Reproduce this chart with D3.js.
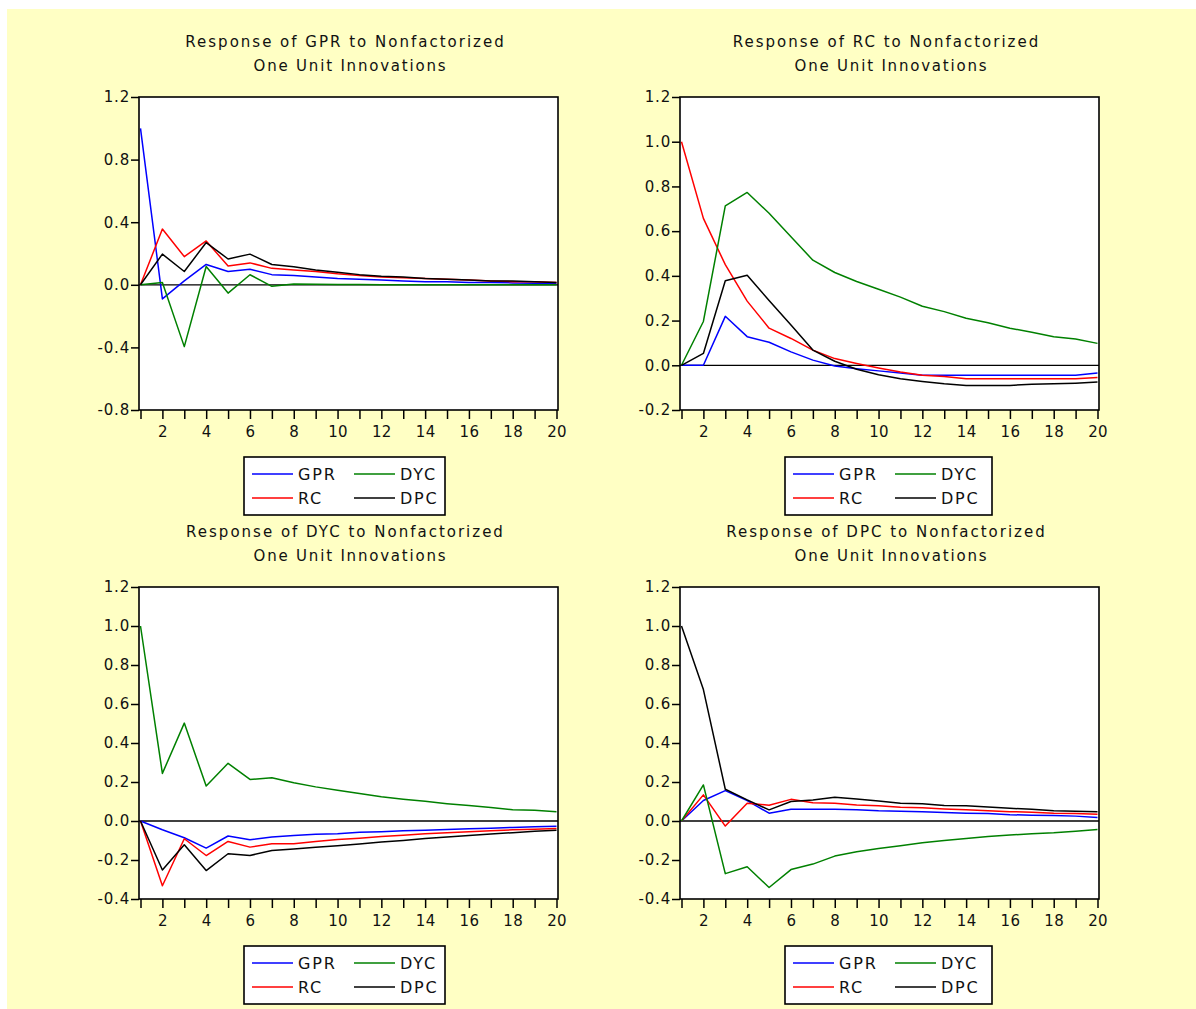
<!DOCTYPE html>
<html><head><meta charset="utf-8">
<script src="https://cdn.jsdelivr.net/npm/d3@7"></script>
<style>body{margin:0;background:#fff;overflow:hidden}</style>
</head><body><div id="chart"></div>
<script>
// ---------- data ----------
const periods = [1,2,3,4,5,6,7,8,9,10,11,12,13,14,15,16,17,18,19,20];
const seriesNames = ["GPR","RC","DYC","DPC"];
const seriesColors = ["#0000ff","#ff0000","#008000","#000000"];

// Response of GPR
const gprToGPR = [1.0,-0.09,0.025,0.13,0.085,0.10,0.065,0.06,0.05,0.04,0.035,0.03,0.025,0.02,0.02,0.015,0.015,0.012,0.01,0.01];
const gprToRC  = [0,0.356,0.18,0.28,0.12,0.14,0.105,0.095,0.085,0.07,0.06,0.05,0.045,0.04,0.035,0.03,0.025,0.02,0.02,0.015];
const gprToDYC = [0,0.015,-0.395,0.117,-0.053,0.064,-0.01,0.005,0.003,0.002,0.002,0.001,0.001,0.001,0.001,0.001,0,0,0,0];
const gprToDPC = [0,0.196,0.085,0.27,0.165,0.196,0.13,0.115,0.095,0.08,0.065,0.055,0.05,0.04,0.035,0.03,0.025,0.025,0.02,0.015];

// Response of RC
const rcToGPR = [0,0,0.219,0.128,0.103,0.06,0.023,-0.003,-0.015,-0.025,-0.035,-0.045,-0.045,-0.045,-0.045,-0.045,-0.045,-0.045,-0.045,-0.035];
const rcToRC  = [1.0,0.657,0.45,0.287,0.166,0.12,0.068,0.03,0.008,-0.012,-0.03,-0.045,-0.05,-0.06,-0.06,-0.06,-0.06,-0.06,-0.06,-0.055];
const rcToDYC = [0,0.196,0.713,0.773,0.68,0.575,0.47,0.415,0.375,0.34,0.305,0.264,0.24,0.21,0.19,0.166,0.148,0.128,0.118,0.098];
const rcToDPC = [0,0.053,0.378,0.403,0.29,0.18,0.068,0.018,-0.018,-0.042,-0.06,-0.072,-0.083,-0.09,-0.09,-0.09,-0.085,-0.083,-0.08,-0.075];

// Response of DYC
const dycToGPR = [0,-0.045,-0.086,-0.139,-0.077,-0.096,-0.082,-0.074,-0.068,-0.065,-0.058,-0.055,-0.05,-0.047,-0.044,-0.04,-0.037,-0.033,-0.03,-0.027];
const dycToRC  = [0,-0.332,-0.091,-0.177,-0.105,-0.134,-0.117,-0.117,-0.105,-0.095,-0.088,-0.08,-0.073,-0.066,-0.06,-0.055,-0.05,-0.045,-0.042,-0.038];
const dycToDYC = [1.0,0.244,0.502,0.179,0.296,0.213,0.222,0.196,0.175,0.158,0.141,0.124,0.112,0.101,0.089,0.079,0.069,0.058,0.055,0.048];
const dycToDPC = [0,-0.251,-0.122,-0.254,-0.168,-0.177,-0.151,-0.144,-0.135,-0.127,-0.118,-0.108,-0.1,-0.09,-0.082,-0.074,-0.067,-0.06,-0.053,-0.047];

// Response of DPC
const dpcToGPR = [0,0.105,0.156,0.105,0.04,0.06,0.06,0.06,0.058,0.052,0.05,0.048,0.043,0.04,0.038,0.032,0.03,0.028,0.025,0.018];
const dpcToRC  = [0,0.134,-0.026,0.091,0.081,0.111,0.094,0.091,0.082,0.078,0.07,0.068,0.062,0.058,0.052,0.048,0.045,0.04,0.038,0.035];
const dpcToDYC = [0,0.185,-0.27,-0.235,-0.341,-0.249,-0.221,-0.18,-0.158,-0.141,-0.127,-0.111,-0.1,-0.09,-0.08,-0.072,-0.065,-0.06,-0.052,-0.043];
const dpcToDPC = [1.0,0.674,0.163,0.108,0.057,0.1,0.108,0.122,0.113,0.103,0.091,0.088,0.08,0.078,0.072,0.065,0.06,0.052,0.05,0.048];

const titleLine1 = ["Response of GPR to Nonfactorized","Response of RC to Nonfactorized","Response of DYC to Nonfactorized","Response of DPC to Nonfactorized"];
const titleLine2 = "One Unit Innovations";
const yTicksGPR = [-0.8,-0.4,0.0,0.4,0.8,1.2];
const yTicksRC  = [-0.2,0.0,0.2,0.4,0.6,0.8,1.0,1.2];
const yTicksLow = [-0.4,-0.2,0.0,0.2,0.4,0.6,0.8,1.0,1.2];
const xTickLabels = [2,4,6,8,10,12,14,16,18,20];

// ---------- layout ----------
const W = 1196, H = 1009;
const FONT = "'DejaVu Sans', Verdana, sans-serif";
const panels = [
  {series:[gprToGPR,gprToRC,gprToDYC,gprToDPC], title:titleLine1[0], yTicks:yTicksGPR, box:{l:139,r:558,t:97,b:410}, legW:201},
  {series:[rcToGPR,rcToRC,rcToDYC,rcToDPC],     title:titleLine1[1], yTicks:yTicksRC,  box:{l:680,r:1099,t:97,b:410}, legW:207},
  {series:[dycToGPR,dycToRC,dycToDYC,dycToDPC], title:titleLine1[2], yTicks:yTicksLow, box:{l:139,r:558,t:587,b:899}, legW:201},
  {series:[dpcToGPR,dpcToRC,dpcToDYC,dpcToDPC], title:titleLine1[3], yTicks:yTicksLow, box:{l:680,r:1099,t:587,b:899}, legW:207}
];

const svg = d3.select("#chart").append("svg").attr("width",W).attr("height",H)
  .style("font-family",FONT);
svg.append("rect").attr("x",0).attr("y",0).attr("width",W).attr("height",H).attr("fill","#ffffff");
svg.append("rect").attr("x",7).attr("y",9).attr("width",W-7).attr("height",H-9).attr("fill","#ffffc4");

panels.forEach(p => {
  const b = p.box;
  const g = svg.append("g");
  const yMin = d3.min(p.yTicks), yMax = d3.max(p.yTicks);
  const x = d3.scaleLinear().domain([1,20]).range([b.l+1.5, b.r-1.5]);
  const y = d3.scaleLinear().domain([yMin,yMax]).range([b.b, b.t]);

  g.append("rect").attr("x",b.l).attr("y",b.t).attr("width",b.r-b.l).attr("height",b.b-b.t).attr("fill","#ffffff");

  // titles
  const cx = (b.l+b.r)/2;
  g.append("text").attr("x",cx-3).attr("y",b.t-50).attr("text-anchor","middle")
    .attr("font-size",15).attr("letter-spacing","2px").attr("fill","#111").text(p.title);
  g.append("text").attr("x",cx+2).attr("y",b.t-26).attr("text-anchor","middle")
    .attr("font-size",15).attr("letter-spacing","1.8px").attr("fill","#111").text(titleLine2);

  // zero line
  g.append("line").attr("x1",b.l).attr("x2",b.r).attr("y1",y(0)).attr("y2",y(0))
    .attr("stroke","#000").attr("stroke-width",1.3);

  // series
  const line = d3.line().x((d,i)=>x(periods[i])).y(d=>y(d));
  p.series.forEach((s,i)=>{
    g.append("path").datum(s).attr("d",line).attr("fill","none")
      .attr("stroke",seriesColors[i]).attr("stroke-width",1.5).attr("stroke-linejoin","round");
  });

  // frame
  g.append("rect").attr("x",b.l).attr("y",b.t).attr("width",b.r-b.l).attr("height",b.b-b.t)
    .attr("fill","none").attr("stroke","#000").attr("stroke-width",1.6);

  // y axis
  const ya = g.append("g").attr("transform",`translate(${b.l},0)`)
    .call(d3.axisLeft(y).tickValues(p.yTicks).tickSize(8).tickPadding(1).tickFormat(d=>d.toFixed(1)));
  ya.select(".domain").remove();
  ya.selectAll(".tick line").attr("stroke","#000").attr("stroke-width",1.5);
  ya.selectAll("text").attr("font-size",15).attr("font-family",FONT).attr("letter-spacing","0.8px").attr("fill","#111");

  // x axis
  const xa = g.append("g").attr("transform",`translate(0,${b.b})`)
    .call(d3.axisBottom(x).tickValues(periods).tickSize(9).tickPadding(7)
      .tickFormat(d=> xTickLabels.includes(d) ? String(d) : ""));
  xa.select(".domain").remove();
  xa.selectAll(".tick line").attr("stroke","#000").attr("stroke-width",1.5);
  xa.selectAll("text").attr("font-size",15).attr("font-family",FONT).attr("letter-spacing","0.3px").attr("fill","#111");

  // legend
  const lx = b.l+105, ly = b.b+47, lh = 58;
  const lg = g.append("g").attr("transform",`translate(${lx},${ly})`);
  lg.append("rect").attr("width",p.legW).attr("height",lh).attr("fill","#ffffff")
    .attr("stroke","#000").attr("stroke-width",1.6);
  seriesNames.forEach((name,i)=>{
    const col = i < 2 ? 0 : 1;
    const row = i % 2;
    const ox = col===0 ? 8 : 110;
    const oy = row===0 ? 17 : 41;
    lg.append("line").attr("x1",ox).attr("x2",ox+41).attr("y1",oy).attr("y2",oy)
      .attr("stroke",seriesColors[i]).attr("stroke-width",1.4);
    lg.append("text").attr("x",ox+46).attr("y",oy+6).attr("font-size",16)
      .attr("letter-spacing","1.8px").attr("fill","#111").text(name);
  });
});
</script>
</body></html>
